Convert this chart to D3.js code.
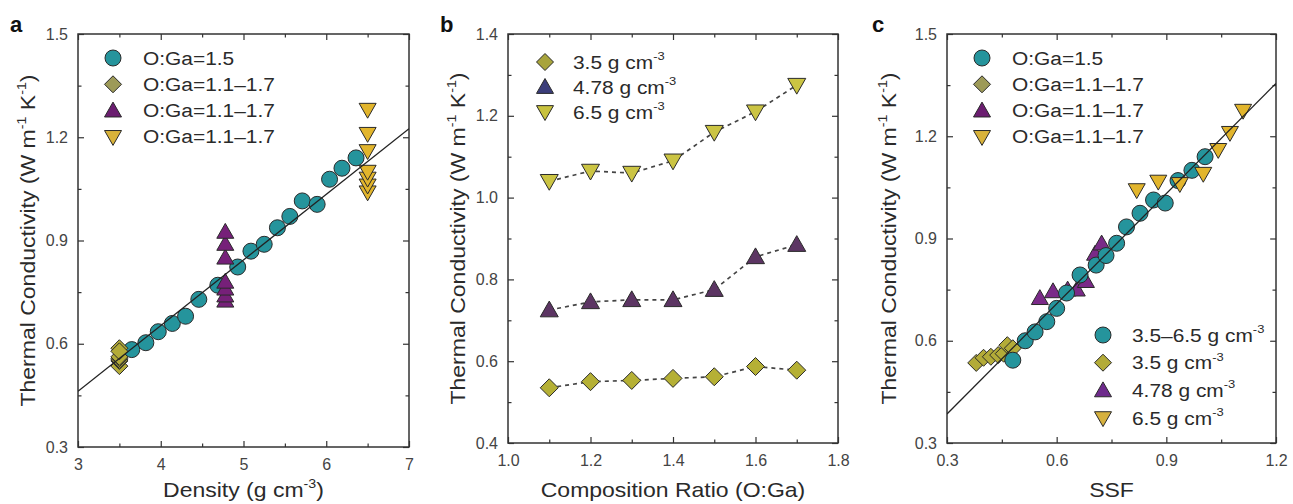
<!DOCTYPE html>
<html>
<head>
<meta charset="utf-8">
<script src="https://d3js.org/d3.v7.min.js"></script>
<style>
  body { margin: 0; background: #fff; }
  svg { font-family: "Liberation Sans", Arial, sans-serif; display: block; }
  .tick text { font-size: 16px; fill: #444; }
  .tick line { stroke: #333; stroke-width: 1.2; }
</style>
</head>
<body>
<div id="chart"></div>
<script>
// ---- panel a : density ----
const aCircleX = [3.65, 3.82, 3.97, 4.14, 4.30, 4.46, 4.69, 4.93, 5.09, 5.25, 5.41, 5.56, 5.71, 5.89, 6.04, 6.19, 6.36];
const aCircleY = [0.583, 0.603, 0.635, 0.659, 0.68, 0.729, 0.77, 0.823, 0.869, 0.889, 0.937, 0.97, 1.015, 1.005, 1.078, 1.11, 1.14];
const aDiamondX = [3.5, 3.5, 3.5, 3.5, 3.5, 3.5, 3.5];
const aDiamondY = [0.535, 0.55, 0.553, 0.558, 0.562, 0.587, 0.578];
const aTriX = [4.78, 4.78, 4.78, 4.78, 4.78, 4.78, 4.78];
const aTriY = [0.725, 0.74, 0.76, 0.78, 0.85, 0.89, 0.925];
const aInvX = [6.5, 6.5, 6.5, 6.5, 6.5, 6.5, 6.5];
const aInvY = [1.04, 1.06, 1.08, 1.10, 1.16, 1.21, 1.28];
const aFitX = [3, 7];
const aFitY = [0.462, 1.225];
const aXMajor = [3, 4, 5, 6, 7], aXMinor = [3.5, 4.5, 5.5, 6.5];
const aYMajor = [0.3, 0.6, 0.9, 1.2, 1.5], aYMinor = [0.45, 0.75, 1.05, 1.35];

// ---- panel b : composition ratio ----
const bRatio = [1.1, 1.2, 1.3, 1.4, 1.5, 1.6, 1.7];
const b35 = [0.535, 0.55, 0.553, 0.558, 0.562, 0.587, 0.578];
const b478 = [0.725, 0.745, 0.75, 0.75, 0.775, 0.855, 0.885];
const b65 = [1.04, 1.065, 1.06, 1.09, 1.16, 1.21, 1.275];
const bXMajor = [1.0, 1.2, 1.4, 1.6, 1.8], bXMinor = [1.1, 1.3, 1.5, 1.7];
const bYMajor = [0.4, 0.6, 0.8, 1.0, 1.2, 1.4], bYMinor = [0.5, 0.7, 0.9, 1.1, 1.3];

// ---- panel c : SSF ----
const cCircleX = [0.48, 0.514, 0.541, 0.573, 0.60, 0.627, 0.664, 0.708, 0.735, 0.764, 0.791, 0.828, 0.865, 0.897, 0.932, 0.97, 1.006];
const cCircleY = [0.543, 0.60, 0.626, 0.656, 0.695, 0.74, 0.793, 0.822, 0.85, 0.886, 0.934, 0.974, 1.013, 1.004, 1.07, 1.10, 1.14];
const cDiamondX = [0.38, 0.40, 0.42, 0.44, 0.455, 0.465, 0.48];
const cDiamondY = [0.535, 0.55, 0.553, 0.558, 0.562, 0.587, 0.578];
const cTriX = [0.554, 0.59, 0.63, 0.655, 0.68, 0.705, 0.723];
const cTriY = [0.725, 0.745, 0.75, 0.75, 0.775, 0.855, 0.885];
const cInvX = [0.819, 0.878, 0.937, 1.001, 1.042, 1.074, 1.11];
const cInvY = [1.042, 1.067, 1.06, 1.09, 1.16, 1.21, 1.275];
const cFitX = [0.3, 1.2];
const cFitY = [0.385, 1.355];
const cXMajor = [0.3, 0.6, 0.9, 1.2], cXMinor = [0.45, 0.75, 1.05];

const yTitle = ["Thermal Conductivity (W m", "^-1", " K", "^-1", ")"];
const ratioLabel = "O:Ga=1.5", rangeLabel = "O:Ga=1.1\u20131.7";

const teal = "#25949c", olive = "#b3ab38", purple = "#762079", gold = "#e2b52c";

const width = 1293, height = 504;
const svg = d3.select("#chart").append("svg").attr("width", width).attr("height", height);

function rich(sel, parts, size) {
  let up = false;
  parts.forEach(p => {
    if (p.startsWith("^")) {
      sel.append("tspan").attr("font-size", size * 0.62).attr("dy", -size * 0.45).text(p.slice(1));
      up = true;
    } else {
      sel.append("tspan").attr("dy", up ? size * 0.45 : 0).text(p);
      up = false;
    }
  });
  return sel;
}

function shapePath(shape, r) {
  if (shape === "circle") return d3.symbol(d3.symbolCircle, Math.PI * r * r)();
  if (shape === "diamond") return `M0,${-r}L${r},0L0,${r}L${-r},0Z`;
  if (shape === "up") return `M0,${-r}L${r},${r * 0.75}L${-r},${r * 0.75}Z`;
  return `M0,${r}L${r},${-r * 0.75}L${-r},${-r * 0.75}Z`;
}

function panel(cfg) {
  const x = d3.scaleLinear().domain(cfg.xDom).range([cfg.l, cfg.r]);
  const y = d3.scaleLinear().domain(cfg.yDom).range([cfg.b, cfg.t]);
  const g = svg.append("g");
  const id = "clip" + cfg.name;
  svg.append("clipPath").attr("id", id).append("rect")
    .attr("x", cfg.l).attr("y", cfg.t).attr("width", cfg.r - cfg.l).attr("height", cfg.b - cfg.t);

  const axis = (fn, scale, vals, size, fmt, tr) => {
    g.append("g").attr("transform", tr)
      .call(fn(scale).tickValues(vals).tickSize(size).tickPadding(fn === d3.axisBottom ? 12 : 10).tickFormat(fmt))
      .call(s => s.select(".domain").remove());
  };
  const none = () => "";
  axis(d3.axisBottom, x, cfg.xMajor, -6, cfg.xFmt, `translate(0,${cfg.b})`);
  axis(d3.axisBottom, x, cfg.xMinor, -3.5, none, `translate(0,${cfg.b})`);
  axis(d3.axisTop, x, cfg.xMajor, -6, none, `translate(0,${cfg.t})`);
  axis(d3.axisTop, x, cfg.xMinor, -3.5, none, `translate(0,${cfg.t})`);
  axis(d3.axisLeft, y, cfg.yMajor, -6, d3.format(".1f"), `translate(${cfg.l},0)`);
  axis(d3.axisLeft, y, cfg.yMinor, -3.5, none, `translate(${cfg.l},0)`);
  axis(d3.axisRight, y, cfg.yMajor, -6, none, `translate(${cfg.r},0)`);
  axis(d3.axisRight, y, cfg.yMinor, -3.5, none, `translate(${cfg.r},0)`);

  g.append("rect").attr("x", cfg.l).attr("y", cfg.t)
    .attr("width", cfg.r - cfg.l).attr("height", cfg.b - cfg.t)
    .attr("fill", "none").attr("stroke", "#333").attr("stroke-width", 1.5);

  // panel letter
  g.append("text").attr("x", cfg.letterX).attr("y", 32)
    .attr("font-size", 22).attr("font-weight", "bold").attr("fill", "#111").text(cfg.name);

  // x title
  rich(g.append("text")
    .attr("transform", `translate(${(cfg.l + cfg.r) / 2},497) scale(1.15,1)`)
    .attr("text-anchor", "middle").attr("font-size", 20).attr("fill", "#2a2a2a"), cfg.xTitle, 20);

  // y title
  rich(g.append("text")
    .attr("transform", `translate(${cfg.l - cfg.yTitleOff},${(cfg.t + cfg.b) / 2}) rotate(-90) scale(1.15,1)`)
    .attr("text-anchor", "middle").attr("font-size", 20).attr("fill", "#2a2a2a"), yTitle, 20);

  const plot = g.append("g");
  const lineG = g.append("g").attr("clip-path", `url(#${id})`);
  return { g: plot, lineG, x, y };
}

function marks(p, shape, xs, ys, fill, r) {
  p.g.append("g").selectAll("path")
    .data(xs.map((v, i) => [v, ys[i]]))
    .join("path")
    .attr("d", shapePath(shape, r))
    .attr("transform", d => `translate(${p.x(d[0])},${p.y(d[1])})`)
    .attr("fill", fill).attr("stroke", "#2a2a2a").attr("stroke-width", 1);
}

function fitLine(p, xs, ys) {
  p.lineG.append("path")
    .attr("d", d3.line().x(d => p.x(d)).y((d, i) => p.y(ys[i]))(xs))
    .attr("fill", "none").attr("stroke", "#222").attr("stroke-width", 1.3);
}

function legend(g, mx, tx, y0, dy, items) {
  items.forEach((it, i) => {
    const yy = y0 + i * dy;
    g.append("path").attr("d", shapePath(it.shape, it.shape === "circle" ? 8 : 8.5))
      .attr("transform", `translate(${mx},${yy})`)
      .attr("fill", it.fill).attr("stroke", "#2a2a2a").attr("stroke-width", 1);
    rich(g.append("text")
      .attr("transform", `translate(${tx},${yy + 6.5}) scale(1.1,1)`)
      .attr("font-size", 19).attr("fill", "#2a2a2a"), it.label, 19);
  });
}

// ---------- panel a ----------
const pa = panel({
  name: "a", letterX: 10, l: 78, r: 409, t: 34, b: 447,
  xDom: [3, 7], yDom: [0.3, 1.5],
  xMajor: aXMajor, xMinor: aXMinor, yMajor: aYMajor, yMinor: aYMinor,
  xFmt: d3.format("d"), xTitle: ["Density (g cm", "^-3", ")"], yTitleOff: 43
});
marks(pa, "circle", aCircleX, aCircleY, teal, 8);
marks(pa, "diamond", aDiamondX, aDiamondY, olive, 8.5);
marks(pa, "up", aTriX, aTriY, purple, 8.5);
marks(pa, "down", aInvX, aInvY, gold, 8.5);
fitLine(pa, aFitX, aFitY);
legend(pa.g, 113, 143, 58, 26.3, [
  { shape: "circle", fill: teal, label: [ratioLabel] },
  { shape: "diamond", fill: "#9d9a58", label: [rangeLabel] },
  { shape: "up", fill: "#6b1d70", label: [rangeLabel] },
  { shape: "down", fill: "#d8b23a", label: [rangeLabel] }
]);

// ---------- panel b ----------
const pb = panel({
  name: "b", letterX: 440, l: 508, r: 838, t: 34, b: 443,
  xDom: [1.0, 1.8], yDom: [0.4, 1.4],
  xMajor: bXMajor, xMinor: bXMinor, yMajor: bYMajor, yMinor: bYMinor,
  xFmt: d3.format(".1f"), xTitle: ["Composition Ratio (O:Ga)"], yTitleOff: 43
});
[[b35, "diamond", "#b5b035"], [b478, "up", "#5c3563"], [b65, "down", "#cbc443"]].forEach(([vals, shape, fill]) => {
  pb.g.append("path")
    .attr("d", d3.line().x((d, i) => pb.x(bRatio[i])).y(d => pb.y(d))(vals))
    .attr("fill", "none").attr("stroke", "#444").attr("stroke-width", 1.7)
    .attr("stroke-dasharray", "4,4");
  marks(pb, shape, bRatio, vals, fill, 9);
});
legend(pb.g, 545, 573, 62, 25, [
  { shape: "diamond", fill: "#a8a43c", label: ["3.5 g cm", "^-3"] },
  { shape: "up", fill: "#3b3d7a", label: ["4.78 g cm", "^-3"] },
  { shape: "down", fill: "#c8c23e", label: ["6.5 g cm", "^-3"] }
]);

// ---------- panel c ----------
const pc = panel({
  name: "c", letterX: 872, l: 947, r: 1276, t: 34, b: 443,
  xDom: [0.3, 1.2], yDom: [0.3, 1.5],
  xMajor: cXMajor, xMinor: cXMinor, yMajor: aYMajor, yMinor: aYMinor,
  xFmt: d3.format(".1f"), xTitle: ["SSF"], yTitleOff: 51
});
marks(pc, "diamond", cDiamondX, cDiamondY, olive, 8.5);
marks(pc, "up", cTriX, cTriY, "#7a2a88", 8.5);
marks(pc, "circle", cCircleX, cCircleY, teal, 8);
marks(pc, "down", cInvX, cInvY, gold, 8.5);
fitLine(pc, cFitX, cFitY);
legend(pc.g, 982, 1012, 58, 26.3, [
  { shape: "circle", fill: teal, label: [ratioLabel] },
  { shape: "diamond", fill: "#9d9a58", label: [rangeLabel] },
  { shape: "up", fill: "#6b1d70", label: [rangeLabel] },
  { shape: "down", fill: "#d8b23a", label: [rangeLabel] }
]);
legend(pc.g, 1103, 1132, 335, 27.7, [
  { shape: "circle", fill: teal, label: ["3.5\u20136.5 g cm", "^-3"] },
  { shape: "diamond", fill: olive, label: ["3.5 g cm", "^-3"] },
  { shape: "up", fill: "#6e2a8c", label: ["4.78 g cm", "^-3"] },
  { shape: "down", fill: "#d6b13e", label: ["6.5 g cm", "^-3"] }
]);
</script>
</body>
</html>
